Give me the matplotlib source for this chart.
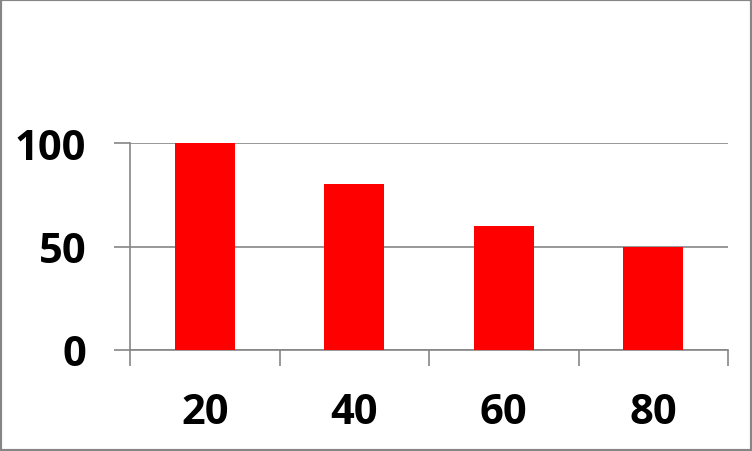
import matplotlib.pyplot as plt
from matplotlib.patches import Rectangle

categories = ['20', '40', '60', '80']
values = [100, 80, 60, 50]
y_ticks = [0, 50, 100]

gray = '#868686'
plt.rcParams['font.family'] = ['Open Sans', 'DejaVu Sans']

fig = plt.figure(figsize=(7.52, 4.52), dpi=100)
W, H = 752, 452
ax = fig.add_axes([130 / W, 1 - 351 / H, (728 - 130) / W, (351 - 144) / H])

x = range(len(categories))
ax.bar(x, values, width=0.4, color='#ff0000', zorder=3)

ax.set_xlim(-0.5, len(categories) - 0.5)
ax.set_ylim(0, 100)

# y axis: gridlines plus outward ticks
ax.set_yticks(y_ticks)
ax.set_yticklabels([str(v) for v in y_ticks], fontsize=30, fontweight='bold')
ax.yaxis.grid(True, color=gray, linewidth=1.2, zorder=0)
ax.tick_params(axis='y', length=11.5, width=1.2, color=gray, pad=20)

# x axis: ticks on category boundaries, labels centred
ax.set_xticks([i - 0.5 for i in range(len(categories) + 1)])
ax.set_xticklabels([])
ax.set_xticks(list(x), minor=True)
ax.set_xticklabels(categories, minor=True, fontsize=30, fontweight='bold')
ax.tick_params(axis='x', which='major', length=11.5, width=1.2, color=gray)
ax.tick_params(axis='x', which='minor', length=0, pad=30)

for s in ['top', 'right']:
    ax.spines[s].set_visible(False)
for s in ['left', 'bottom']:
    ax.spines[s].set_color(gray)
    ax.spines[s].set_linewidth(1.2)

fig.patches.append(Rectangle((0, 0), 1, 1, transform=fig.transFigure,
                             fill=False, edgecolor=gray, linewidth=3))

fig.savefig('out.png', dpi=100)
